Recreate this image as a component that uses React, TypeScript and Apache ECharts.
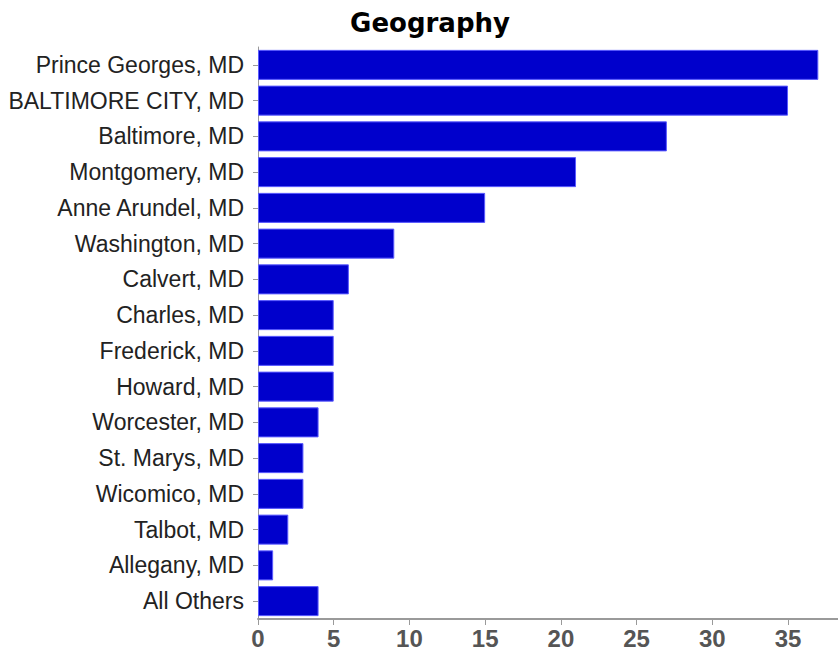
import React, { useEffect, useRef } from "react";
import * as echarts from "echarts";

const categories = [
  "Prince Georges, MD",
  "BALTIMORE CITY, MD",
  "Baltimore, MD",
  "Montgomery, MD",
  "Anne Arundel, MD",
  "Washington, MD",
  "Calvert, MD",
  "Charles, MD",
  "Frederick, MD",
  "Howard, MD",
  "Worcester, MD",
  "St. Marys, MD",
  "Wicomico, MD",
  "Talbot, MD",
  "Allegany, MD",
  "All Others",
];
const counts = [37, 35, 27, 21, 15, 9, 6, 5, 5, 5, 4, 3, 3, 2, 1, 4];
const titleText = "Geography";

export default function App() {
  const ref = useRef<HTMLDivElement>(null);
  useEffect(() => {
    const chart = echarts.init(ref.current!, null, { renderer: "svg" });
    chart.setOption({
      animation: false,
      backgroundColor: "#ffffff",
      title: {
        text: titleText,
        left: 425,
        top: 5,
        textAlign: "center",
        textStyle: {
          fontFamily: "DejaVu Sans, sans-serif",
          fontWeight: "bold",
          fontSize: 26,
          color: "#000000",
        },
      },
      grid: { left: 258, right: 0, top: 47, bottom: 35, containLabel: false },
      xAxis: {
        type: "value",
        min: 0,
        max: 38.3,
        interval: 5,
        splitLine: { show: false },
        axisLine: { show: true, lineStyle: { color: "#9a9a9a", width: 2 } },
        axisTick: { show: true, length: 6, lineStyle: { color: "#9a9a9a" } },
        axisLabel: {
          showMaxLabel: false,
          margin: 7,
          fontFamily: "Liberation Sans, Arial, sans-serif",
          fontWeight: "bold",
          fontSize: 24,
          color: "#555555",
        },
      },
      yAxis: {
        type: "category",
        data: categories,
        inverse: true,
        axisLine: { show: true, lineStyle: { color: "#9a9a9a", width: 1 } },
        axisTick: { show: true, alignWithLabel: true, length: 5, lineStyle: { color: "#9a9a9a" } },
        axisLabel: {
          margin: 14,
          fontFamily: "Liberation Sans, Arial, sans-serif",
          fontSize: 23,
          color: "#222222",
        },
      },
      series: [
        {
          type: "bar",
          data: counts,
          barCategoryGap: "16%",
          itemStyle: { color: "#0000CC", borderColor: "#5a5aff", borderWidth: 1 },
        },
      ],
    });
    return () => chart.dispose();
  }, []);
  return (
    <div
      ref={ref}
      style={{ position: "fixed", left: 0, top: 0, width: 838, height: 654 }}
    />
  );
}
